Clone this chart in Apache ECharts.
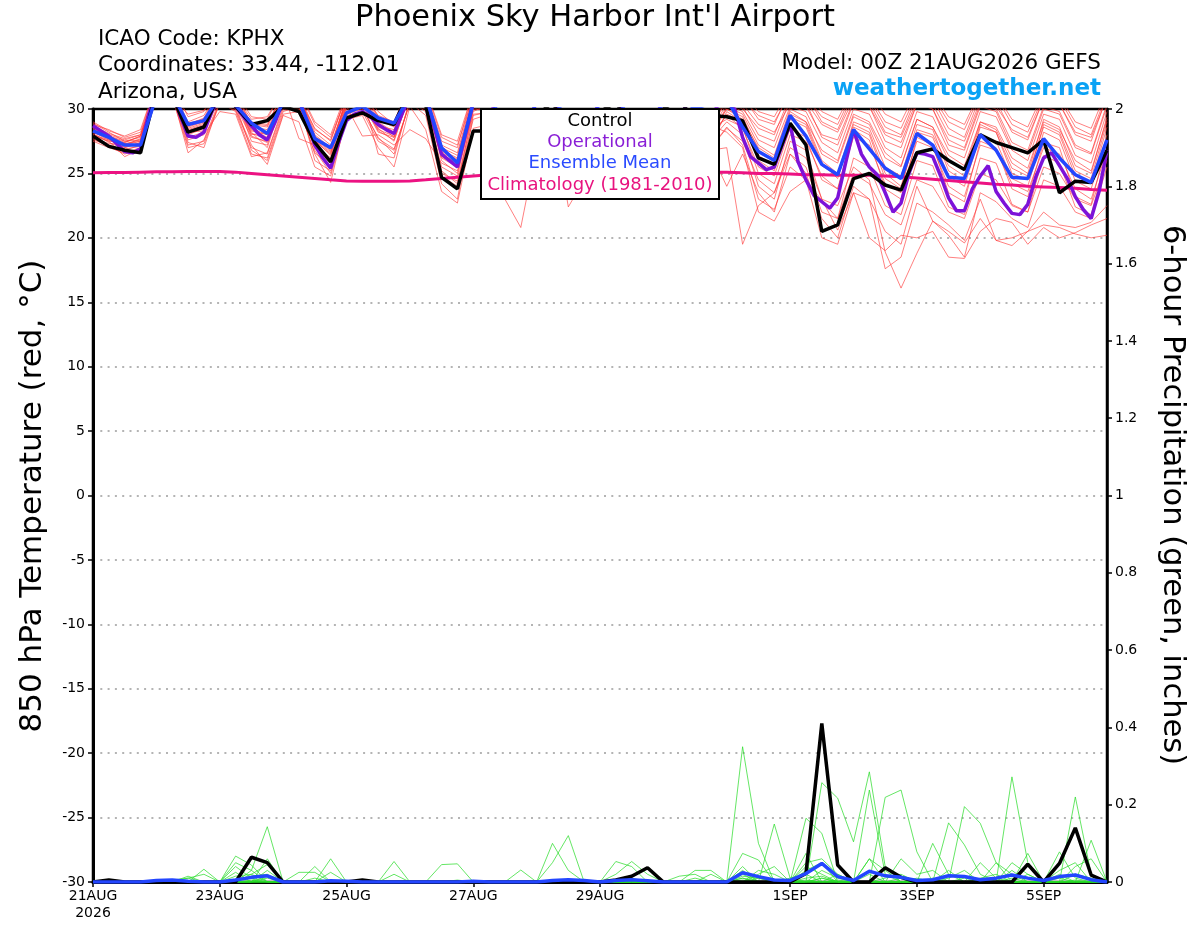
<!DOCTYPE html>
<html>
<head>
<meta charset="utf-8">
<script src="https://cdn.jsdelivr.net/npm/echarts@6/dist/echarts.min.js"></script>
<style>
html,body{margin:0;padding:0;background:#fff;}
#chart{width:1200px;height:927px;}
</style>
</head>
<body>
<div id="chart"></div>
<script>
// ---------------- DATA ----------------
const forecastHours6 = [0,6,12,18,24,30,36,42,48,54,60,66,72,78,84,90,96,102,108,114,120,126,132,138,144,150,156,162,168,174,180,186,192,198,204,210,216,222,228,234,240,246,252,258,264,270,276,282,288,294,300,306,312,318,324,330,336,342,348,354,360,366,372,378,384];
const forecastHours3 = [0,3,6,9,12,15,18,21,24,27,30,33,36,39,42,45,48,51,54,57,60,63,66,69,72,75,78,81,84,87,90,93,96,99,102,105,108,111,114,117,120,123,126,129,132,135,138,141,144,147,150,153,156,159,162,165,168,171,174,177,180,183,186,189,192,195,198,201,204,207,210,213,216,219,222,225,228,231,234,237,240,243,246,249,252,255,258,261,264,267,270,273,276,279,282,285,288,291,294,297,300,303,306,309,312,315,318,321,324,327,330,333,336,339,342,345,348,351,354,357,360,363,366,369,372,375,378,381,384];

const tickHours = [0,48,96,144,192,264,312,360];
const tickLabels = ['21AUG\n2026','23AUG','25AUG','27AUG','29AUG','1SEP','3SEP','5SEP'];

const legendLabels = ['Control','Operational','Ensemble Mean','Climatology (1981-2010)'];

// 850 hPa temperature (deg C)
const tempControl = [27.9,27.1,26.8,26.6, 31.5,31.0,28.2,28.6, 31.2,30.2,28.8,29.1, 30.2,29.8,27.4,25.9, 29.3,29.7,29.1,28.8, 31.5,30.3,24.7,23.8, 28.3,28.3,28.5,27.5, 29.5,30.5,28.5,27.5, 29.8,30.5,28.8,28.0, 30.0,30.8,29.0,29.5, 29.4,29.1,26.2,25.7, 28.9,27.2,20.5,21.0, 24.6,25.0,24.1,23.7, 26.6,26.9,26.0,25.3, 28.0,27.4,27.0,26.6, 27.6,23.5,24.4,24.3, 26.8];
const tempMean = [28.3,27.8,27.2,27.2, 31.0,31.2,28.8,29.1, 31.0,30.3,28.9,28.1, 30.5,30.6,27.7,27.0, 29.7,30.2,29.3,28.9, 31.0,31.0,27.0,25.8, 30.5,30.8,29.0,28.0, 30.5,31.0,29.0,28.0, 30.5,31.0,29.0,28.5, 30.5,31.0,30.0,30.5, 30.8,28.6,26.7,26.0, 29.5,27.9,25.7,24.9, 28.4,26.9,25.4,24.6, 28.1,27.2,24.7,24.6, 28.0,26.8,24.7,24.6, 27.7,26.2,24.9,24.3, 27.6];
const tempOperational = [28.7,28.3,27.9,27.3,26.7,26.6,26.9,29.5,31.5,32.0,
 31.5,29.5,27.9,27.8,28.2,29.8,31.0,31.2,30.2,29.4,
 28.7,28.0,27.6,29.0,30.6,31.0,30.8,29.0,27.2,26.2,
 25.4,27.4,29.1,29.6,29.8,29.4,28.8,28.4,28.1,29.6,
 31.0,31.5,31.0,28.8,26.5,26.0,25.5,28.0,30.5,31.0,
 30.8,29.5,28.2,27.8,27.6,29.0,30.6,31.0,30.8,29.6,
 28.4,28.0,27.8,29.2,30.7,31.1,30.9,29.7,28.5,28.1,
 27.9,29.3,30.8,31.2,31.0,29.8,28.8,28.6,29.4,30.4,
 30.5,30.0,27.8,26.3,25.8,25.3,25.5,27.2,28.8,25.9,
 24.5,23.3,22.8,22.3,23.1,25.8,28.4,26.5,25.5,24.9,
 23.5,22.0,22.7,25.0,26.6,26.5,26.3,24.8,23.1,22.1,
 22.1,23.8,24.8,25.6,23.6,22.7,21.9,21.8,22.6,24.7,
 26.2,26.6,25.6,24.6,23.2,22.2,21.5,23.6,26.8];
const tempClimatology = [25.05,25.07,25.08,25.1, 25.12,25.13,25.15,25.15, 25.15,25.1,25.0,24.9, 24.8,24.7,24.6,24.5, 24.42,24.4,24.4,24.4, 24.42,24.5,24.6,24.7, 24.8,24.9,25.0,25.05, 25.1,25.15,25.2,25.2, 25.2,25.2,25.2,25.2, 25.2,25.2,25.15,25.1, 25.1,25.05,25.0,25.0, 24.95,24.9,24.9,24.85, 24.85,24.85,24.8,24.75, 24.65,24.55,24.45,24.35, 24.25,24.15,24.1,24.0, 23.95,23.9,23.85,23.75, 23.7];

const tempMember01 = [28.5,27.8,27.2,27.5,31.5,31.2,28.4,28.8,31.5,30.8,28.5,28.0,31.0,31.0,27.5,26.5,30.5,30.8,29.0,28.2,31.5,31.2,26.5,25.8,30.5, 30.8,28.0,27.2,30.6,31.0,28.2,27.5,30.8,31.2,28.5,27.8,31.0,31.2,28.6,28.4, 30.8,30.2,28.0,27.5,30.8,30.5,27.8,27.2,30.5,30.2,27.5,27.0,30.4,30.0,27.2,26.8,30.2,29.8,27.0,26.5,30.0,29.6,27.0,26.5,30.2];
const tempMember02 = [28.0,27.5,26.3,26.9,31.0,31.5,27.8,28.2,30.8,30.2,27.8,27.5,30.5,30.2,27.0,25.8,30.0,30.5,28.2,27.8,31.0,30.5,25.5,24.8,30.0, 30.2,27.5,26.8,30.0,30.5,27.8,26.9,30.3,30.6,28.0,27.0,30.5,30.7,28.2,27.9, 29.5,28.5,25.5,24.8,28.5,27.8,24.5,23.8,27.8,27.2,24.2,23.5,27.5,27.0,24.0,23.2,27.2,26.8,24.2,23.6,27.0,26.5,23.8,23.0,26.8];
const tempMember03 = [28.8,28.4,27.8,28.2,32.0,31.8,29.4,29.8,31.8,31.0,29.2,29.4,31.5,31.4,28.8,27.8,31.0,31.2,29.5,29.0,32.0,31.5,27.8,27.2,31.0, 31.2,29.0,28.5,31.0,31.5,29.2,28.6,31.3,31.5,29.5,28.8,31.4,31.6,29.8,29.5, 31.2,31.0,29.2,28.8,31.5,31.2,29.0,28.4,31.2,30.8,28.6,28.0,31.0,30.8,28.5,27.8,31.0,30.6,28.2,27.6,30.8,30.4,28.0,27.5,31.0];
const tempMember04 = [27.6,27.2,26.8,27.2,31.2,31.0,27.2,27.5,30.5,29.8,26.5,26.2,29.8,30.2,26.5,24.3,29.5,29.8,27.5,26.8,30.5,29.5,24.2,23.0,29.5, 29.8,26.0,25.2,29.5,29.8,22.4,24.5,29.0,29.6,26.5,25.8,29.8,30.2,27.0,26.8, 27.0,19.5,22.5,23.5,26.5,25.5,22.0,21.5,25.0,24.2,21.8,21.0,24.5,24.0,22.0,21.5,25.0,24.5,22.5,22.0,25.5,25.0,23.0,22.5,26.0];
const tempMember05 = [28.4,27.9,27.5,27.8,31.6,31.3,28.9,29.2,31.3,30.5,28.2,27.0,30.8,30.6,26.0,25.2,29.8,30.2,28.5,27.5,31.2,30.8,26.8,26.2,30.8, 30.6,27.8,27.0,30.4,30.9,28.0,27.2,30.5,30.9,28.1,27.4,30.6,30.8,28.4,28.0, 30.0,29.4,26.8,26.0,29.6,29.0,26.0,25.0,29.0,28.5,25.5,24.8,28.8,28.4,25.2,24.4,28.6,28.2,25.0,24.5,28.8,28.2,25.2,24.6,29.0];
const tempMember06 = [28.2,27.6,27.0,27.4,31.3,31.4,28.0,28.5,31.0,30.6,29.0,28.8,31.2,31.0,28.2,27.2,30.6,31.0,29.2,28.6,31.4,31.0,27.2,26.6,31.2, 31.0,28.6,27.8,30.8,31.2,28.8,28.0,31.0,31.3,29.0,28.2,31.1,31.3,29.2,28.9, 30.5,30.0,28.5,28.0,31.0,30.6,28.8,28.2,30.8,30.5,28.2,27.8,30.6,30.4,28.0,27.5,30.6,30.2,28.4,27.8,30.8,30.4,28.2,27.8,30.9];
const tempMember07 = [27.8,27.3,27.3,27.6,31.4,31.1,26.6,27.6,30.7,30.0,27.2,25.7,29.5,29.0,25.5,24.8,29.2,29.5,27.0,25.5,30.2,28.4,23.6,22.7,28.5, 28.8,23.0,20.8,27.0,29.2,25.8,25.0,28.5,29.5,26.2,25.4,29.0,29.6,26.8,27.0, 28.5,27.5,24.5,23.5,27.0,26.2,23.0,22.5,25.5,24.5,18.9,16.1,18.8,21.3,20.5,19.6,21.5,19.8,20.0,20.5,21.0,20.8,20.3,20.0,20.2];
const tempMember08 = [28.6,28.0,27.6,28.0,31.8,31.6,29.0,29.5,31.6,31.2,28.8,28.6,31.3,27.7,27.2,26.2,30.2,27.9,28.0,27.2,28.4,27.7,25.8,25.2,29.8, 30.4,27.2,26.5,30.2,30.7,27.5,26.8,30.4,30.8,27.8,27.0,30.5,30.9,28.0,27.6, 29.0,28.0,24.0,23.0,27.5,26.8,23.0,20.6,23.5,23.0,20.5,19.5,24.0,21.3,20.2,18.5,23.5,22.8,21.5,20.8,24.5,24.0,22.0,21.5,25.5];
const tempMember09 = [28.3,27.7,27.1,27.3,31.1,30.9,27.6,28.0,29.8,29.6,26.3,26.6,30.2,30.4,27.8,26.8,30.8,31.1,26.5,26.2,30.8,30.2,25.2,24.2,29.2, 29.6,26.8,26.0,29.8,30.3,27.0,26.2,30.0,30.4,27.3,26.5,30.2,30.5,27.6,27.2, 29.8,29.0,26.0,25.2,29.2,28.6,25.6,24.8,28.8,28.2,25.0,24.0,28.2,27.8,24.8,24.0,28.0,27.5,24.6,24.0,28.2,27.6,24.4,23.8,28.0];
const tempMember10 = [27.5,27.0,26.6,27.0,31.0,30.8,28.6,29.0,31.2,30.4,28.4,27.8,30.6,30.8,28.5,27.5,31.2,31.4,29.8,28.8,31.6,31.3,27.5,27.0,31.5, 31.4,29.2,28.6,31.2,31.6,29.4,28.8,31.4,31.7,29.6,29.0,31.5,31.7,29.8,29.6, 31.0,30.8,29.5,29.0,31.2,31.0,29.4,28.8,31.4,31.0,29.0,28.5,31.2,31.0,29.0,28.4,31.2,31.0,28.8,28.2,31.0,30.8,28.6,28.0,31.2];
const tempMember11 = [29.0,28.3,27.9,28.4,32.0,31.7,28.2,28.3,31.4,30.9,27.5,27.2,30.9,31.2,26.8,25.0,30.4,30.8,28.8,27.8,31.3,30.6,26.2,25.5,30.2, 30.5,27.6,26.8,30.3,30.8,27.8,27.0,30.6,31.0,28.0,27.2,30.7,31.0,28.3,27.9, 30.2,29.6,27.2,26.4,30.0,29.4,26.5,25.8,29.4,28.8,26.2,25.5,29.2,28.6,26.0,25.2,29.0,28.4,25.8,25.0,29.2,28.6,25.6,25.0,29.4];
const tempMember12 = [28.1,27.4,26.9,27.1,31.2,31.0,29.6,29.9,31.7,31.3,29.4,29.2,31.6,31.5,29.0,28.0,31.3,31.5,29.4,28.9,31.8,31.6,28.0,27.5,31.4, 31.5,29.4,28.9,31.4,31.7,29.6,29.0,31.6,31.8,29.8,29.2,31.6,31.9,30.0,29.8, 31.5,31.2,29.8,29.4,31.6,31.4,29.8,29.2,31.6,31.4,29.6,29.0,31.5,31.2,29.4,28.8,31.4,31.2,29.2,28.6,31.3,31.0,29.0,28.5,31.5];
const tempMember13 = [27.9,27.5,27.4,27.9,31.5,31.2,27.4,27.0,30.6,30.3,26.8,26.0,29.6,29.8,27.3,26.0,29.6,30.0,27.8,26.5,30.6,29.8,24.8,24.0,30.0, 29.9,25.8,24.8,29.3,29.8,26.2,25.4,29.5,30.0,26.8,26.0,29.8,30.2,27.2,26.6, 24.0,26.5,23.5,22.0,26.5,25.0,21.5,20.0,24.0,23.0,17.6,18.5,22.7,22.0,21.0,19.8,23.0,19.8,19.4,20.5,22.0,21.0,20.8,21.2,22.5];
const tempMember14 = [28.7,28.1,27.7,28.0,31.7,31.5,28.7,29.0,31.1,30.7,28.0,28.2,31.1,31.0,28.0,27.0,30.9,31.0,28.7,28.4,31.2,30.9,26.0,25.0,30.6, 30.7,28.2,27.4,30.5,31.0,28.4,27.6,30.7,31.1,28.6,27.8,30.9,31.1,28.8,28.5, 29.2,28.6,25.0,24.2,28.0,27.5,24.8,23.8,28.4,27.6,23.8,23.0,27.8,27.2,23.5,22.8,27.5,27.0,23.8,23.2,27.4,27.0,23.2,22.6,27.5];
const tempMember15 = [28.4,27.8,27.0,27.4,31.3,31.2,28.3,28.7,31.3,30.8,28.6,28.4,31.0,30.9,27.7,26.7,30.7,31.0,28.9,28.0,31.4,31.0,26.6,26.0,30.8, 30.9,28.4,27.6,30.7,31.1,28.6,27.8,30.9,31.2,28.8,28.0,31.0,31.2,29.0,28.7, 28.2,27.0,22.0,21.3,23.6,24.5,22.9,21.5,26.2,25.5,22.5,21.8,26.0,25.6,22.4,21.8,26.2,25.8,22.6,22.0,26.4,25.8,22.4,21.8,26.5];
const tempMember16 = [28.0,27.6,27.2,27.7,31.4,31.3,28.1,28.6,31.1,30.6,27.9,27.4,30.7,30.8,27.6,26.4,30.3,30.6,28.3,27.6,31.1,30.7,26.3,25.6,30.4, 30.3,27.4,26.6,30.1,30.6,27.6,26.8,30.3,30.7,27.9,27.1,30.5,30.8,28.1,27.7, 29.6,29.0,26.4,25.6,29.4,28.8,25.8,24.6,28.6,28.0,24.6,23.8,28.4,28.0,25.6,24.8,28.8,28.2,25.4,24.8,28.6,28.0,24.8,24.2,28.6];
const tempMember17 = [28.9,28.2,27.5,27.6,31.6,31.4,28.8,29.3,31.6,31.0,28.9,28.7,31.4,31.2,28.4,27.6,31.0,31.3,29.3,28.7,31.6,31.2,27.0,26.4,31.0, 31.1,28.8,28.2,30.9,31.3,29.0,28.4,31.1,31.4,29.2,28.6,31.2,31.4,29.5,29.2, 30.6,30.4,28.8,28.2,30.4,30.2,28.0,27.6,30.6,30.2,28.0,27.4,30.4,30.0,27.6,27.0,30.4,30.0,27.4,26.8,30.2,29.8,27.2,26.6,30.4];
const tempMember18 = [27.7,27.1,26.5,26.9,31.0,30.9,27.0,27.3,30.4,29.9,27.0,26.5,30.0,30.0,26.6,25.6,29.7,30.1,27.7,26.9,30.4,30.0,25.0,24.4,29.6, 29.7,26.4,25.6,29.6,30.0,26.6,25.8,29.8,30.2,27.0,26.2,30.0,30.4,27.4,27.0, 28.6,27.2,23.0,22.2,25.5,24.5,20.0,19.5,23.5,20.0,19.0,20.2,20.0,20.5,18.5,18.4,20.5,21.5,21.2,19.5,20.8,20.0,20.4,21.0,21.5];
const tempMember19 = [28.5,27.9,27.4,27.9,31.5,31.3,28.5,28.9,31.4,30.9,28.3,28.0,31.0,31.0,27.9,26.9,30.8,31.0,28.6,28.1,31.3,30.9,26.4,25.8,30.6, 30.6,28.0,27.3,30.5,30.9,28.2,27.4,30.7,31.0,28.4,27.6,30.8,31.0,28.6,28.2, 30.0,29.2,27.0,26.2,29.8,29.0,26.8,26.0,29.6,29.0,26.6,25.6,29.2,28.6,26.4,25.6,29.0,28.6,26.2,25.4,29.0,28.4,26.0,25.2,29.2];
const tempMember20 = [28.2,27.7,27.3,27.5,31.3,31.1,28.2,28.7,31.2,30.7,28.1,27.7,30.8,30.8,27.6,26.6,30.5,30.8,28.4,27.9,31.2,30.8,26.7,26.1,30.7, 30.7,28.1,27.4,30.6,30.9,28.3,27.5,30.8,31.1,28.5,27.7,30.9,31.1,28.7,28.3, 30.4,29.8,27.6,27.0,30.2,29.8,27.4,26.6,30.0,29.6,27.0,26.2,29.8,29.4,26.8,26.2,29.8,29.4,26.8,26.0,29.6,29.2,26.4,25.8,29.8];

// 6-hour precipitation (inches)
const precipControl = [0,0.005,0,0, 0,0,0,0, 0,0,0.064,0.05, 0,0,0,0, 0,0.005,0,0, 0,0,0,0, 0,0,0,0, 0,0,0,0, 0,0.005,0.015,0.037, 0,0,0,0, 0,0,0,0, 0,0.022,0.41,0.044, 0,0,0.037,0.012, 0,0,0,0, 0,0,0,0.046, 0,0.048,0.14,0.018, 0];
const precipMean = [0,0,0,0, 0.004,0.005,0.002,0, 0,0.005,0.012,0.016, 0,0,0,0.003, 0.002,0,0,0, 0,0,0,0, 0.002,0,0,0, 0,0.004,0.006,0.004, 0,0.004,0.006,0.003, 0,0,0,0, 0,0.024,0.014,0.005, 0.004,0.022,0.048,0.014, 0.004,0.028,0.016,0.012, 0.004,0.006,0.016,0.014, 0.006,0.01,0.018,0.01, 0.004,0.014,0.018,0.006, 0];

const precipMember01 = [0,0,0,0, 0,0,0.015,0, 0,0,0.03,0.143, 0,0,0,0, 0,0,0,0, 0,0,0,0, 0,0,0,0, 0,0,0,0, 0,0,0,0, 0,0,0,0, 0,0.35,0.1,0, 0,0.074,0,0, 0,0.06,0,0, 0,0,0,0, 0,0,0.272,0.05, 0,0,0,0, 0];
const precipMember02 = [0,0,0,0, 0,0,0,0.033, 0,0.05,0.03,0, 0,0,0,0, 0,0,0,0, 0,0,0,0, 0,0,0,0, 0,0,0,0, 0,0,0,0, 0,0,0,0, 0,0,0,0, 0,0,0.257,0.217, 0.104,0.285,0.04,0, 0,0,0,0, 0,0,0,0, 0,0,0.22,0.02, 0];
const precipMember03 = [0,0,0,0, 0,0,0,0, 0,0.067,0.044,0, 0,0,0,0.06, 0,0,0,0, 0,0,0,0, 0,0,0,0, 0,0.1,0.03,0, 0,0,0,0, 0,0,0,0, 0,0,0,0.15, 0.01,0,0,0, 0,0,0,0, 0,0.1,0.02,0, 0,0,0,0, 0,0,0,0, 0];
const precipMember04 = [0,0,0,0, 0,0,0,0, 0,0,0,0.06, 0,0,0.04,0, 0,0,0,0.053, 0,0,0,0, 0,0,0,0, 0,0,0,0, 0,0,0,0, 0,0,0,0, 0,0,0,0, 0,0.165,0.126,0, 0,0,0.219,0.238, 0.078,0,0,0, 0,0,0,0, 0,0.078,0.01,0, 0];
const precipMember05 = [0,0,0,0, 0,0,0,0, 0,0,0.02,0.045, 0,0,0,0, 0,0,0,0, 0,0,0.045,0.047, 0,0,0,0, 0,0,0,0, 0,0,0,0, 0,0,0,0, 0,0.074,0.057,0, 0,0,0,0, 0,0,0,0, 0,0,0.153,0.096, 0.02,0,0,0, 0,0,0,0, 0];
const precipMember06 = [0,0,0,0, 0,0,0,0, 0,0.025,0,0, 0,0.025,0.025,0, 0,0,0,0, 0,0,0,0, 0,0,0,0, 0,0.05,0.12,0, 0,0,0,0, 0,0,0,0, 0,0,0,0, 0,0,0,0.02, 0,0.238,0.02,0, 0,0,0,0.195, 0.152,0.05,0,0, 0,0,0,0, 0];
const precipMember07 = [0,0,0,0, 0,0,0,0, 0,0,0,0.03, 0,0,0,0, 0,0,0,0, 0,0,0,0, 0,0,0,0, 0,0,0,0, 0,0.053,0.04,0, 0,0,0,0, 0,0.04,0,0, 0,0.03,0.05,0, 0,0,0,0, 0,0,0,0, 0,0,0.03,0, 0,0,0,0.108, 0];
const precipMember08 = [0,0,0,0, 0,0,0,0, 0,0,0.015,0.02, 0,0,0,0, 0,0,0,0, 0,0,0,0, 0,0,0,0, 0,0,0,0, 0,0.02,0.053,0.02, 0,0,0,0, 0,0,0.03,0.02, 0,0,0,0, 0,0,0,0.06, 0.02,0.03,0,0, 0,0,0,0.074, 0,0,0,0, 0];
const precipMember09 = [0,0,0,0, 0,0,0.01,0.02, 0,0,0,0, 0,0,0,0, 0,0,0,0, 0,0,0,0, 0,0,0,0, 0,0,0,0, 0,0,0,0, 0,0,0.03,0.03, 0,0.02,0,0, 0,0.04,0.02,0, 0,0,0,0, 0,0,0,0, 0.05,0.01,0,0, 0,0,0.04,0.06, 0];
const precipMember10 = [0,0,0,0, 0,0,0,0, 0,0,0,0, 0,0,0,0, 0,0,0,0, 0,0,0,0, 0,0,0,0, 0,0,0,0, 0,0,0,0, 0,0.015,0.02,0, 0,0.03,0,0, 0.01,0.02,0,0, 0,0.06,0.03,0, 0,0,0,0, 0,0.05,0.02,0, 0,0,0,0, 0];
const precipMember11 = [0,0,0,0, 0,0,0,0, 0,0,0,0, 0,0,0,0.025, 0,0,0,0, 0,0,0,0, 0,0,0,0.031, 0,0,0,0, 0,0,0,0, 0,0,0,0, 0,0,0,0, 0,0,0.03,0.01, 0,0,0,0, 0,0,0,0, 0,0,0,0.02, 0,0.03,0.05,0, 0];
const precipMember12 = [0,0,0,0, 0,0,0,0, 0,0.04,0.01,0, 0,0,0,0, 0,0,0,0, 0,0,0,0, 0,0,0,0, 0,0,0,0, 0,0,0,0, 0,0,0,0.02, 0,0.015,0.01,0, 0,0,0,0, 0,0,0,0, 0,0,0.01,0.03, 0,0,0,0, 0,0.02,0,0, 0];
const precipMember13 = [0,0,0,0, 0,0,0,0, 0,0,0,0, 0,0,0,0, 0,0,0,0.02, 0,0,0,0, 0,0,0,0, 0,0,0,0, 0,0,0,0, 0,0,0,0, 0,0,0,0, 0,0.05,0.06,0.02, 0,0,0.01,0.02, 0,0.01,0,0, 0,0,0,0, 0,0,0,0, 0];
const precipMember14 = [0,0,0,0, 0,0.005,0.01,0, 0,0,0,0.015, 0,0,0,0, 0,0,0,0, 0,0,0,0, 0,0,0,0, 0,0,0,0, 0,0,0,0, 0,0,0,0, 0,0,0.02,0.04, 0,0,0,0, 0,0,0,0, 0,0,0,0, 0,0,0.05,0.02, 0,0.01,0,0, 0];
const precipMember15 = [0,0,0,0, 0,0,0,0, 0,0.015,0.02,0, 0,0,0,0, 0,0,0,0, 0,0,0,0, 0,0,0,0, 0,0,0,0, 0,0,0.01,0, 0,0,0,0, 0,0.01,0,0, 0,0.01,0.015,0, 0,0,0,0, 0,0,0.03,0, 0,0,0,0, 0,0,0.02,0.01, 0];
const precipMember16 = [0,0,0,0, 0,0,0,0, 0,0,0,0, 0,0,0,0, 0,0,0,0, 0,0,0,0.005, 0,0,0,0, 0,0,0,0, 0,0,0,0, 0,0,0,0, 0,0.005,0,0, 0,0,0.01,0, 0,0.02,0,0, 0.01,0,0,0, 0,0,0,0, 0,0,0,0, 0];
const precipMember17 = [0,0,0,0, 0,0,0,0, 0,0,0,0.01, 0,0,0,0, 0,0,0,0, 0,0,0,0, 0,0,0,0, 0,0,0,0, 0,0,0,0, 0,0,0.01,0, 0,0,0.01,0, 0,0,0,0.005, 0,0,0,0, 0,0,0,0, 0.01,0.02,0,0, 0,0,0,0, 0];
const precipMember18 = [0,0,0,0, 0,0,0,0, 0,0,0.005,0, 0,0,0,0, 0,0,0,0, 0,0,0,0, 0,0,0,0, 0,0,0,0, 0,0,0,0, 0,0,0,0, 0,0,0,0, 0,0.005,0,0, 0,0,0,0, 0,0,0,0.01, 0,0,0,0, 0,0,0.005,0, 0];
const precipMember19 = [0,0,0,0, 0,0,0,0, 0,0,0,0, 0,0,0.01,0, 0,0,0,0, 0,0,0,0, 0,0,0,0, 0,0,0,0, 0,0,0,0, 0,0,0,0, 0,0,0,0, 0,0,0.01,0, 0,0,0,0, 0,0,0,0, 0,0,0,0, 0,0,0,0, 0];
const precipMember20 = [0,0,0,0, 0,0,0,0, 0,0,0,0, 0,0,0,0, 0,0,0,0, 0,0,0,0, 0,0,0,0, 0,0,0,0, 0,0,0,0, 0,0,0,0, 0,0.01,0,0, 0,0,0,0, 0,0,0,0.01, 0,0,0,0, 0,0,0.01,0, 0,0,0,0, 0];

const tempMembers = [tempMember01,tempMember02,tempMember03,tempMember04,tempMember05,tempMember06,tempMember07,tempMember08,tempMember09,tempMember10,tempMember11,tempMember12,tempMember13,tempMember14,tempMember15,tempMember16,tempMember17,tempMember18,tempMember19,tempMember20];
const precipMembers = [precipMember01,precipMember02,precipMember03,precipMember04,precipMember05,precipMember06,precipMember07,precipMember08,precipMember09,precipMember10,precipMember11,precipMember12,precipMember13,precipMember14,precipMember15,precipMember16,precipMember17,precipMember18,precipMember19,precipMember20];

// ---------------- CHART ----------------
const FONT = '"DejaVu Sans", "Liberation Sans", Arial, sans-serif';
const pairs = (hours, vals) => hours.map((h, i) => [h, vals[i]]);

const series = [];
tempMembers.forEach((m, k) => series.push({
  name: 'tm' + k, type: 'line', yAxisIndex: 0, data: pairs(forecastHours6, m),
  showSymbol: false, symbol: 'none', silent: true, z: 2,
  lineStyle: { color: 'rgba(255,55,55,0.8)', width: 0.8 }
}));
precipMembers.forEach((m, k) => series.push({
  name: 'pm' + k, type: 'line', yAxisIndex: 1, data: pairs(forecastHours6, m),
  showSymbol: false, symbol: 'none', silent: true, z: 2,
  lineStyle: { color: 'rgba(40,220,40,0.9)', width: 0.8 }
}));
series.push({ name: 'clim', type: 'line', yAxisIndex: 0, data: pairs(forecastHours6, tempClimatology),
  symbol: 'none', silent: true, z: 3, lineStyle: { color: '#ec1282', width: 3 } });
series.push({ name: 'oper', type: 'line', yAxisIndex: 0, data: pairs(forecastHours3, tempOperational),
  symbol: 'none', silent: true, z: 4, lineStyle: { color: '#7d12d8', width: 3.5 } });
series.push({ name: 'ctlT', type: 'line', yAxisIndex: 0, data: pairs(forecastHours6, tempControl),
  symbol: 'none', silent: true, z: 5, lineStyle: { color: '#000', width: 3.5 } });
series.push({ name: 'ctlP', type: 'line', yAxisIndex: 1, data: pairs(forecastHours6, precipControl),
  symbol: 'none', silent: true, z: 5, lineStyle: { color: '#000', width: 3.5 } });
series.push({ name: 'meanT', type: 'line', yAxisIndex: 0, data: pairs(forecastHours6, tempMean),
  symbol: 'none', silent: true, z: 6, lineStyle: { color: '#2346ff', width: 3.5 } });
series.push({ name: 'meanP', type: 'line', yAxisIndex: 1, data: pairs(forecastHours6, precipMean),
  symbol: 'none', silent: true, z: 6, lineStyle: { color: '#2346ff', width: 3.5 } });

const legendColors = ['#000000', '#8a1fd6', '#2a4bff', '#e8137f'];
const legendY = [121, 142.5, 163.5, 185];

const graphics = [
  { type: 'text', z: 100, x: 595, y: 18.5, style: { text: "Phoenix Sky Harbor Int'l Airport", fontSize: 30.5, fontFamily: FONT, fill: '#000', textAlign: 'center', textVerticalAlign: 'middle', verticalAlign: 'middle' } },
  { type: 'text', z: 100, x: 98, y: 39.5, style: { text: 'ICAO Code: KPHX', fontSize: 21.5, fontFamily: FONT, fill: '#000', textAlign: 'left', textVerticalAlign: 'middle', verticalAlign: 'middle' } },
  { type: 'text', z: 100, x: 98, y: 65.5, style: { text: 'Coordinates: 33.44, -112.01', fontSize: 21.5, fontFamily: FONT, fill: '#000', textAlign: 'left', textVerticalAlign: 'middle', verticalAlign: 'middle' } },
  { type: 'text', z: 100, x: 98, y: 92, style: { text: 'Arizona, USA', fontSize: 21.5, fontFamily: FONT, fill: '#000', textAlign: 'left', textVerticalAlign: 'middle', verticalAlign: 'middle' } },
  { type: 'text', z: 100, x: 1101, y: 63.5, style: { text: 'Model: 00Z 21AUG2026 GEFS', fontSize: 21.5, fontFamily: FONT, fill: '#000', textAlign: 'right', textVerticalAlign: 'middle', verticalAlign: 'middle' } },
  { type: 'text', z: 100, x: 1101, y: 89.5, style: { text: 'weathertogether.net', fontSize: 23, fontWeight: 'bold', fontFamily: FONT, fill: '#0aa2f5', textAlign: 'right', textVerticalAlign: 'middle', verticalAlign: 'middle' } },
  { type: 'text', z: 100, x: 33, y: 496, rotation: Math.PI / 2, style: { text: '850 hPa Temperature (red, °C)', fontSize: 31, fontFamily: FONT, fill: '#000', textAlign: 'center', textVerticalAlign: 'middle', verticalAlign: 'middle' } },
  { type: 'text', z: 100, x: 1172, y: 495, rotation: -Math.PI / 2, style: { text: '6-hour Precipitation (green, inches)', fontSize: 30.5, fontFamily: FONT, fill: '#000', textAlign: 'center', textVerticalAlign: 'middle', verticalAlign: 'middle' } },
  { type: 'rect', z: 100, shape: { x: 481, y: 109, width: 238, height: 90 }, style: { fill: '#fff', stroke: '#000', lineWidth: 2 } }
];
legendLabels.forEach((t, k) => graphics.push({
  type: 'text', z: 101, x: 600, y: legendY[k],
  style: { text: t, fontSize: 18, fontFamily: FONT, fill: legendColors[k], textAlign: 'center', textVerticalAlign: 'middle', verticalAlign: 'middle' }
}));

const option = {
  animation: false,
  backgroundColor: '#fff',
  textStyle: { fontFamily: FONT },
  grid: { left: 93, right: 93, top: 109, bottom: 45, show: true, borderColor: '#000', borderWidth: 2.5, backgroundColor: 'transparent' },
  xAxis: {
    type: 'value', min: 0, max: 384,
    axisLine: { show: true, onZero: false, lineStyle: { color: '#000', width: 3 } },
    axisTick: { show: true, customValues: tickHours, length: 5, lineStyle: { color: '#000', width: 1.5 } },
    axisLabel: { show: true, customValues: tickHours, color: '#000', fontSize: 14, fontFamily: FONT, margin: 6, lineHeight: 17,
      formatter: v => { const k = tickHours.indexOf(v); return k >= 0 ? tickLabels[k] : ''; } },
    splitLine: { show: false }
  },
  yAxis: [
    { type: 'value', position: 'left', min: -30, max: 30, interval: 5,
      axisLine: { show: true, onZero: false, lineStyle: { color: '#000', width: 3 } },
      axisTick: { show: true, length: 5, lineStyle: { color: '#000', width: 1.5 } },
      axisLabel: { color: '#000', fontSize: 14, fontFamily: FONT, margin: 8 },
      splitLine: { show: true, showMaxLine: false, showMinLine: false, lineStyle: { color: '#b4b4b4', width: 2, type: [2, 5.3] } } },
    { type: 'value', position: 'right', min: 0, max: 2, interval: 0.2,
      axisLine: { show: true, onZero: false, lineStyle: { color: '#000', width: 2.5 } },
      axisTick: { show: true, length: 5, lineStyle: { color: '#000', width: 1.5 } },
      axisLabel: { color: '#000', fontSize: 14, fontFamily: FONT, margin: 8 },
      splitLine: { show: false } }
  ],
  series: series,
  graphic: { elements: graphics }
};

const chart = echarts.init(document.getElementById('chart'), null, { renderer: 'canvas' });
chart.setOption(option);
</script>
</body>
</html>
